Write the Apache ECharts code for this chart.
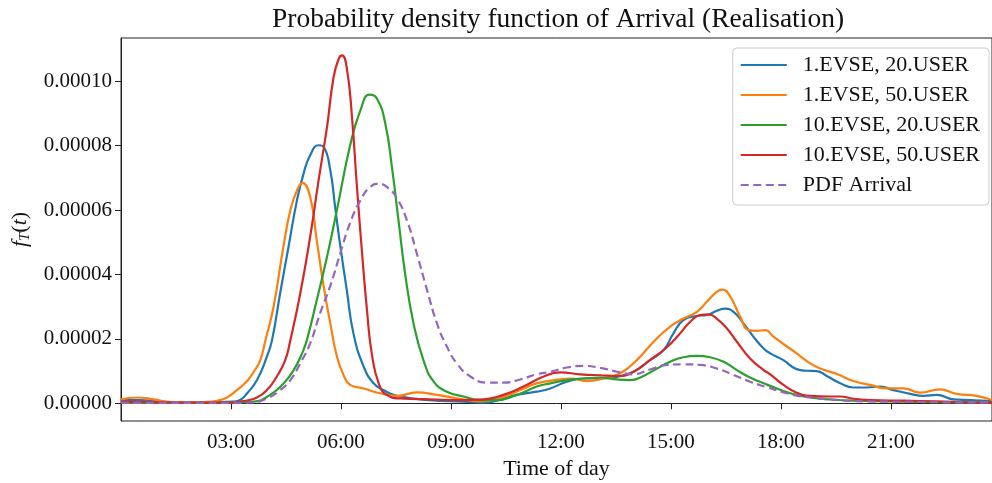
<!DOCTYPE html>
<html><head><meta charset="utf-8">
<script src="https://cdn.jsdelivr.net/npm/echarts@6/dist/echarts.min.js"></script>
<style>html,body{margin:0;padding:0;background:#fff}#c{width:992px;height:483px}</style>
</head><body><div id="c"></div>
<script>
// Values are in units of 1e-6 (density per second); hours of day on x.
const seriesNames = ['1.EVSE, 20.USER', '1.EVSE, 50.USER', '10.EVSE, 20.USER', '10.EVSE, 50.USER', 'PDF Arrival'];
const seriesColors = ['#1f77b4', '#ff7f0e', '#2ca02c', '#d62728', '#9467bd'];

const evse1user20Hours = [0,0.5,1,1.5,2.25,3.07,3.25,3.44,3.71,3.98,4.12,4.34,4.57,4.8,4.98,5.16,5.39,5.53,5.71,5.84,5.98,6.16,6.34,6.62,6.89,7.16,7.53,8.43,9.34,9.89,10.25,10.8,11.34,11.71,12.16,12.62,13.07,13.53,13.98,14.43,14.8,15.07,15.34,15.71,15.98,16.25,16.48,16.71,16.98,17.25,17.53,17.71,18.07,18.43,18.71,18.98,19.25,19.62,19.98,20.34,20.71,21.07,21.53,21.89,22.25,22.71,23.16,23.76];
const evse1user20Vals = [1.0,1.0,0.6,0.3,0.3,0.5,1.0,3.1,7.2,14.5,19.6,34.1,48.6,63.0,71.3,77.0,80.1,79.6,72.3,61.0,49.0,35.1,21.7,11.4,6.2,4.1,2.3,1.0,0.5,0.2,0.8,2.6,3.6,4.6,6.7,7.7,7.7,8.2,9.8,13.4,16.5,21.7,25.8,27.1,27.4,28.7,29.4,28.4,24.8,20.7,17.0,15.5,13.4,10.6,10.1,10.0,8.5,6.2,4.9,4.9,5.2,4.1,2.9,2.3,2.6,1.2,1.0,0.7];

const evse1user50Hours = [0,0.44,0.89,1.35,1.8,2.25,2.62,2.89,3.16,3.44,3.62,3.8,3.94,4.16,4.43,4.62,4.8,4.95,5.16,5.34,5.53,5.71,5.89,6.07,6.25,6.62,7.07,7.53,8.07,8.62,9.34,9.8,10.43,10.98,11.34,11.98,12.25,12.71,13.16,13.62,14.07,14.53,14.98,15.34,15.71,15.98,16.25,16.41,16.62,16.89,17.12,17.34,17.57,17.8,18.07,18.43,18.8,19.07,19.53,19.98,20.43,20.89,21.34,21.8,22.34,22.8,23.34,23.76];
const evse1user50Vals = [1.2,1.8,1.2,0.4,0.3,0.4,0.8,1.8,4.1,6.9,9.8,13.4,19.6,29.9,48.6,59.9,66.1,68.4,64.1,50.6,36.2,24.8,14.5,8.8,5.7,4.6,3.1,2.3,3.4,2.6,1.2,0.6,2.0,4.5,6.2,7.4,7.7,6.9,7.7,9.3,13.4,19.1,23.8,26.3,28.4,31.5,34.6,35.3,33.1,26.9,22.7,22.5,22.7,20.7,18.4,15.5,12.4,10.8,9.1,6.9,5.7,4.6,4.6,3.3,4.3,2.9,2.3,1.0];

const evse10user20Hours = [0,1,2,3,3.62,4.07,4.44,4.71,4.94,5.07,5.34,5.62,5.89,6.25,6.53,6.78,6.98,7.21,7.39,7.57,7.75,7.98,8.25,8.53,8.89,9.34,9.8,10.25,10.8,11.34,11.71,12.16,12.62,13.07,13.53,13.89,14.25,14.62,14.98,15.34,15.71,16.07,16.44,16.8,17.16,17.53,17.71,18.07,18.43,18.8,19.34,19.98,20.89,21.8,22.71,23.76];
const evse10user20Vals = [0.1,0.1,0.1,0.2,0.5,2.6,6.2,10.3,15.5,19.6,32.0,45.5,60.0,80.0,90.9,95.8,94.6,86.8,73.4,56.8,40.3,24.8,13.4,6.7,3.6,2.1,1.0,1.0,2.6,5.2,6.2,7.2,7.7,8.0,7.4,7.2,8.5,10.8,12.9,14.3,14.7,14.3,12.9,10.3,8.0,6.2,5.4,3.8,2.6,1.8,1.2,0.8,0.6,0.4,0.3,0.2];

const evse10user50Hours = [0,1,2,3,3.34,3.71,3.98,4.25,4.48,4.62,4.89,5.16,5.39,5.62,5.8,5.94,6.03,6.16,6.3,6.43,6.57,6.71,6.84,7.03,7.25,7.62,8.43,9.34,9.89,10.43,10.98,11.53,11.98,12.53,13.07,13.62,13.98,14.43,14.89,15.25,15.53,15.8,16.03,16.25,16.53,16.8,17.16,17.53,17.71,18.07,18.43,18.8,19.34,19.62,19.98,20.43,21.34,22.25,23.16,23.76];
const evse10user50Vals = [0.5,0.3,0.2,0.2,0.7,1.8,4.1,8.3,13.4,19.6,34.1,51.7,69.2,85.8,101.3,107.0,108.0,104.0,89.0,68.2,47.5,28.9,15.5,6.2,2.6,1.5,1.2,1.0,1.2,2.6,5.2,8.3,9.6,9.0,8.7,8.5,9.8,13.4,17.4,21.7,25.3,27.4,27.6,26.3,23.2,19.1,13.9,10.3,9.0,5.7,3.3,2.3,2.1,2.1,1.4,1.0,0.8,0.6,0.3,0.2];

const pdfArrivalHours = [0,1,2,3,3.62,3.98,4.34,4.62,4.89,5.16,5.43,5.71,5.98,6.25,6.53,6.8,7.03,7.3,7.53,7.8,8.07,8.35,8.62,8.89,9.16,9.53,9.98,10.43,10.89,11.34,11.71,12.16,12.62,13.07,13.53,13.98,14.43,14.89,15.34,15.8,16.25,16.71,17.16,17.62,18.07,18.43,18.8,19.34,19.98,20.89,21.8,22.71,23.76];
const pdfArrivalVals = [0.1,0.1,0.1,0.1,0.3,1.5,4.1,7.2,12.4,18.6,27.9,36.5,46.5,56.0,63.0,67.2,68.2,66.7,63.6,56.8,46.5,35.1,24.8,17.6,12.4,8.3,6.4,6.4,7.4,9.0,9.8,11.1,11.6,11.0,9.8,9.0,10.5,11.9,12.1,11.9,10.8,8.8,6.7,5.0,3.4,2.4,1.8,1.2,0.7,0.5,0.4,0.3,0.3];

const xTickValues = [3, 6, 9, 12, 15, 18, 21];
const xTickLabels = ['03:00', '06:00', '09:00', '12:00', '15:00', '18:00', '21:00'];
const yTickValues = [0, 20, 40, 60, 80, 100];
const yTickLabels = ['0.00000', '0.00002', '0.00004', '0.00006', '0.00008', '0.00010'];

const FONT = 'Liberation Serif';
const hoursList = [evse1user20Hours, evse1user50Hours, evse10user20Hours, evse10user50Hours, pdfArrivalHours];
const valsList = [evse1user20Vals, evse1user50Vals, evse10user20Vals, evse10user50Vals, pdfArrivalVals];

const series = seriesNames.map((name, k) => ({
  type: 'line',
  name: name,
  data: hoursList[k].map((h, i) => [h, valsList[k][i]]),
  symbol: 'none',
  showSymbol: false,
  smooth: 0.5,
  clip: true,
  lineStyle: { width: 2.2, color: seriesColors[k], type: k === 4 ? [8, 4.5] : 'solid', cap: 'butt' },
  itemStyle: { color: seriesColors[k] },
  emphasis: { disabled: true },
  z: 2 + k
}));

const chart = echarts.init(document.getElementById('c'), null, { renderer: 'canvas' });
chart.setOption({
  animation: false,
  backgroundColor: '#ffffff',
  title: {
    text: 'Probability density function of Arrival (Realisation)',
    left: 272, top: 6, padding: 0,
    textStyle: { fontFamily: FONT, fontSize: 27.5, fontWeight: 'normal', color: '#111' }
  },
  legend: {
    orient: 'vertical', right: 3, top: 48,
    data: seriesNames,
    itemWidth: 46, itemHeight: 14, itemGap: 8,
    padding: [6, 9, 9, 7],
    backgroundColor: 'rgba(255,255,255,0.85)',
    borderColor: '#cccccc', borderWidth: 1, borderRadius: 4,
    itemStyle: { color: 'rgba(0,0,0,0)', borderColor: 'rgba(0,0,0,0)', borderWidth: 0 },
    textStyle: { fontFamily: FONT, fontSize: 22, color: '#111', lineHeight: 22, padding: [0, 0, 0, 11] }
  },
  grid: { left: 121, top: 38, right: 0, bottom: 62, outerBoundsMode: 'none', containLabel: false,
    show: true, borderColor: '#222', borderWidth: 1, backgroundColor: 'transparent' },
  xAxis: {
    type: 'value', min: 0, max: 23.76,
    name: 'Time of day', nameLocation: 'middle', nameGap: 32,
    nameTextStyle: { fontFamily: FONT, fontSize: 22, color: '#111' },
    axisLine: { show: true, lineStyle: { color: '#222', width: 1 } },
    axisTick: { show: true, length: 6, customValues: xTickValues, lineStyle: { color: '#222', width: 1 } },
    axisLabel: { customValues: xTickValues, margin: 11, fontFamily: FONT, fontSize: 21, color: '#111',
      formatter: v => xTickLabels[xTickValues.indexOf(Math.round(v))] },
    splitLine: { show: false }
  },
  yAxis: {
    type: 'value', min: -5.5, max: 113.4,
    name: '{i|f}{s|T}{n|(}{i|t}{n|)}', nameLocation: 'middle', nameGap: 82, nameRotate: 90,
    nameTextStyle: {
      fontFamily: FONT, fontSize: 22, color: '#111',
      rich: {
        i: { fontFamily: FONT, fontSize: 22, fontStyle: 'italic', color: '#111', lineHeight: 26, verticalAlign: 'middle' },
        n: { fontFamily: FONT, fontSize: 22, color: '#111', lineHeight: 26, verticalAlign: 'middle' },
        s: { fontFamily: FONT, fontSize: 15, fontStyle: 'italic', color: '#111', lineHeight: 26, verticalAlign: 'bottom' }
      }
    },
    axisLine: { show: true, lineStyle: { color: '#222', width: 1 } },
    axisTick: { show: true, length: 6, customValues: yTickValues, lineStyle: { color: '#222', width: 1 } },
    axisLabel: { customValues: yTickValues, margin: 9, fontFamily: FONT, fontSize: 21, color: '#111',
      formatter: v => yTickLabels[yTickValues.indexOf(Math.round(v))] },
    splitLine: { show: false }
  },
  series: series
});
</script></body></html>
